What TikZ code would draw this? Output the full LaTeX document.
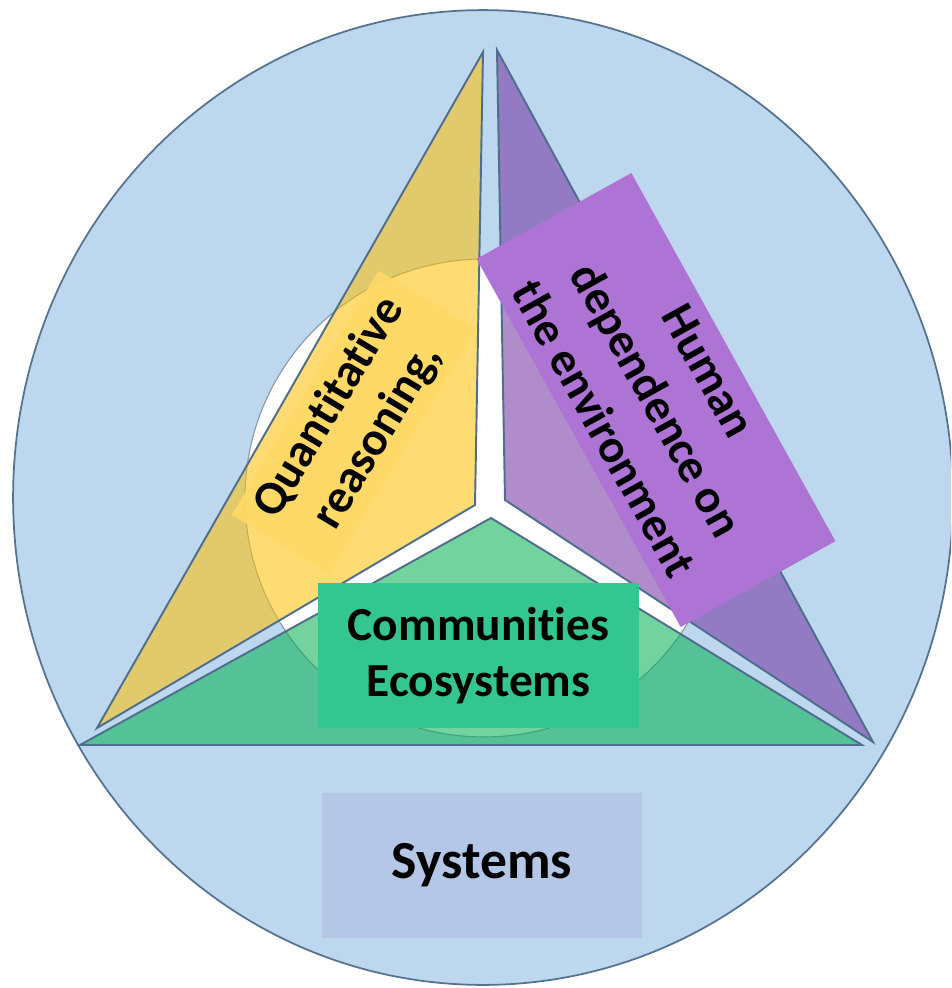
\documentclass[tikz,border=0pt]{standalone}
\usepackage{fontspec}
\setmainfont{Carlito}[RawFeature={-liga,-clig,-calt}]
\usepackage{xcolor}

\definecolor{skyfill}{HTML}{BDD7EE}
\definecolor{rimblue}{HTML}{557391}
\definecolor{edgeblue}{HTML}{4F6E8E}
\definecolor{coregrey}{HTML}{8495A6}
\definecolor{goldwedge}{HTML}{FFC000}
\definecolor{greenwedge}{HTML}{00B050}
\definecolor{purplewedge}{HTML}{7030A0}
\definecolor{goldtag}{HTML}{FFD966}
\definecolor{purpletag}{HTML}{AD74D5}
\definecolor{greentag}{HTML}{33C690}
\definecolor{systag}{HTML}{B4C7E7}

\begin{document}
\begin{tikzpicture}[x=0.02cm, y=-0.02cm,
  wedge/.style={draw=edgeblue, line width=1.1pt, fill opacity=0.55},
  tag/.style={font=\bfseries\fontsize{27}{32}\selectfont, align=center, inner sep=0pt, text=black}]
\tikzset{
        goldbox/.style={tag, fill=goldtag, fill opacity=0.9, text opacity=1, minimum width=5.7cm, minimum height=2.28cm},
        purplebox/.style={tag, fill=purpletag, minimum width=8.42cm, minimum height=3.54cm, font=\bfseries\fontsize{27}{34}\selectfont},
        greenbox/.style={tag, fill=greentag, minimum width=6.42cm, minimum height=2.9cm},
        sysbox/.style={tag, fill=systag, minimum width=6.4cm, minimum height=2.9cm, font=\bfseries\fontsize{30.5}{34}\selectfont},
    }
  \fill[white] (0,0) rectangle (951,988);
  \clip (0,0) rectangle (951,988);

  \draw[fill=skyfill, draw=rimblue, line width=1pt] (483,497.5) ellipse [x radius=9.4cm, y radius=9.75cm];
  \draw[fill=white, draw=coregrey, line width=0.6pt] (484,498) circle [radius=4.78cm];

  \coordinate (qtop) at (483,52);
  \coordinate (qleft) at (97,728);
  \coordinate (qin) at (475,505);
  \coordinate (htop) at (497,50);
  \coordinate (hin) at (505,500);
  \coordinate (hright) at (873,742);
  \coordinate (ctop) at (491,518);
  \coordinate (cleft) at (80,745);
  \coordinate (cright) at (862,745);

  \draw[wedge, fill=goldwedge] (qtop) -- (qleft) -- (qin) -- cycle;
  \draw[wedge, fill=purplewedge] (htop) -- (hin) -- (hright) -- cycle;
  \draw[wedge, fill=greenwedge] (ctop) -- (cleft) -- (cright) -- cycle;

  \node[goldbox, rotate=59] (quant) at (354,422) {Quantitative\\reasoning,};
  \node[purplebox, rotate=-61] (human) at (656,400) {Human\\dependence on\\the environment};
  \node[greenbox] (comm) at (478.5,655.5) {Communities\\Ecosystems};
  \node[sysbox] (sys) at (482,865.5) {Systems};
\end{tikzpicture}
\end{document}
